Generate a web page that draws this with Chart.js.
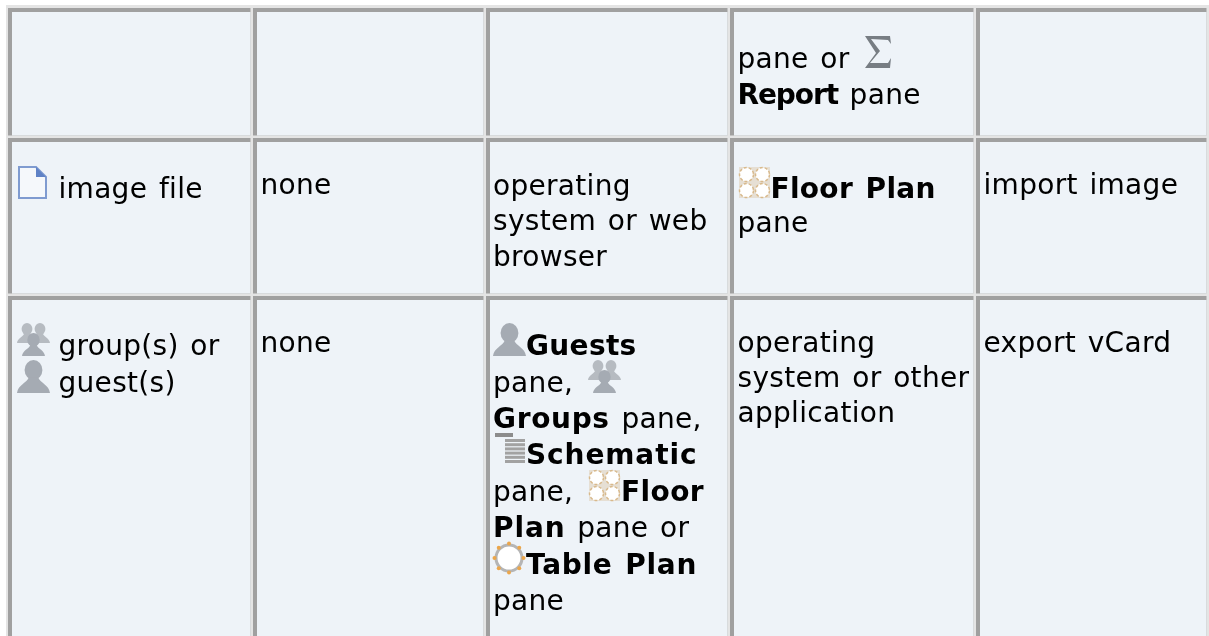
<!DOCTYPE html>
<html>
<head>
<meta charset="utf-8">
<title>Drag sources table</title>
<script src="https://cdn.jsdelivr.net/npm/chart.js@4/dist/chart.umd.min.js"></script>
<style>
    html, body { margin: 0; padding: 0; background: #fff; overflow: hidden; }
    canvas { display: block; }
</style>
</head>
<body>
<canvas id="table" width="1209" height="636"></canvas>
<script>
const columnEdges = [8, 253, 486, 730, 976, 1209];
const rowEdges = [8, 138, 296, 645];

const strong = (text) => ({strong: text});
const icon = (name) => ({icon: name});

// one entry per row, then per column, then per text line
const cellLines = [
    [
        [],
        [],
        [],
        [['pane or ', icon('sigma')], [strong('Report'), ' pane']],
        [],
    ],
    [
        [[icon('page'), 'image file']],
        [['none']],
        [['operating'], ['system or web'], ['browser']],
        [[icon('floor'), strong('Floor Plan')], ['pane']],
        [['import image']],
    ],
    [
        [[icon('group'), 'group(s) or'], [icon('person'), 'guest(s)']],
        [['none']],
        [
            [icon('person'), strong('Guests')],
            ['pane, ', icon('group')],
            [strong('Groups'), ' pane,'],
            [icon('schematic'), strong('Schematic')],
            ['pane, ', icon('floor'), strong('Floor')],
            [strong('Plan'), ' pane or'],
            [icon('tablePlan'), strong('Table Plan')],
            ['pane'],
        ],
        [['operating'], ['system or other'], ['application']],
        [['export vCard']],
    ],
];

const lineBaselines = [
    [[], [], [], [68, 104], []],
    [[198], [194], [195, 230, 266], [198, 232], [194]],
    [[355, 392], [352], [355, 392, 428, 464, 501, 537, 574, 610], [352, 387, 422], [352]],
];

const COLORS = {
    light: '#e4e4e4',
    dark: '#a0a0a0',
    fill: '#eef3f8',
    text: '#000000',
    person: '#a5abb3',
    personBack: '#b6bbc1',
};

const FONT_SIZE = 28;
const TEXT_INSET = [9, 7.5, 7, 7.5, 7.5];
const ICON_SIZE = 33;
const FIRST_COLUMN_ICON_GAP = 8.5;
const INLINE_ICON_GAP = 3;
// the original bold text has uneven hinted widths, so each run gets its own tracking
const STRONG_TRACKING = {
    Schematic: 0.9,
    Guests: 0.33,
    Groups: 0.67,
    Plan: 0.9,
    'Table Plan': 0.68,
    'Floor Plan': 0.3,
    Report: -1.1,
    Floor: 0.4,
};

// nested rectangles per cell: inset of the start and end edges, back to front
const cellLayers = [
    {color: COLORS.light, start: 0, end: 0},
    {color: COLORS.dark, start: 0, end: 2.5},
    {color: COLORS.fill, start: 4, end: 2.5},
];

function buildDatasets() {
    const datasets = [{
        data: [{x: (6 + 1209) / 2, y: [5, 645]}],
        backgroundColor: COLORS.light,
        barThickness: 1209 - 6,
        order: 10,
    }];
    cellLayers.forEach((layer, layerIndex) => {
        for (let col = 0; col < columnEdges.length - 1; col++) {
            const left = columnEdges[col] + layer.start;
            const right = columnEdges[col + 1] - layer.end;
            datasets.push({
                data: rowEdges.slice(0, -1).map((top, row) => ({
                    x: (left + right) / 2,
                    y: [top + layer.start, rowEdges[row + 1] - layer.end],
                })),
                backgroundColor: layer.color,
                barThickness: right - left,
                order: cellLayers.length - layerIndex,
            });
        }
    });
    return datasets;
}

function drawPerson(ctx, x, y, s, color) {
    ctx.fillStyle = color;
    ctx.beginPath();
    ctx.ellipse(x + s * 0.5, y + s * 0.3, s * 0.27, s * 0.3, 0, 0, Math.PI * 2);
    ctx.fill();
    ctx.beginPath();
    ctx.moveTo(x, y + s);
    ctx.bezierCurveTo(x + s * 0.03, y + s * 0.74, x + s * 0.3, y + s * 0.7, x + s * 0.36, y + s * 0.52);
    ctx.lineTo(x + s * 0.64, y + s * 0.52);
    ctx.bezierCurveTo(x + s * 0.7, y + s * 0.7, x + s * 0.97, y + s * 0.74, x + s, y + s);
    ctx.closePath();
    ctx.fill();
}

const iconPainters = {
    person(ctx, x, y) {
        drawPerson(ctx, x, y, ICON_SIZE, COLORS.person);
    },
    group(ctx, x, y) {
        drawPerson(ctx, x, y, 20, COLORS.personBack);
        drawPerson(ctx, x + 13, y, 20, COLORS.personBack);
        drawPerson(ctx, x + 5, y + 10, 23, COLORS.person);
    },
    page(ctx, x, y) {
        ctx.fillStyle = '#f5f8fb';
        ctx.strokeStyle = '#7f9bd0';
        ctx.lineWidth = 2;
        ctx.beginPath();
        ctx.moveTo(x + 2, y + 1);
        ctx.lineTo(x + 19, y + 1);
        ctx.lineTo(x + 29, y + 11);
        ctx.lineTo(x + 29, y + 32);
        ctx.lineTo(x + 2, y + 32);
        ctx.closePath();
        ctx.fill();
        ctx.stroke();
        ctx.fillStyle = '#5f82c6';
        ctx.beginPath();
        ctx.moveTo(x + 19, y + 1);
        ctx.lineTo(x + 29, y + 11);
        ctx.lineTo(x + 19, y + 11);
        ctx.closePath();
        ctx.fill();
    },
    floor(ctx, x, y) {
        ctx.fillStyle = '#e6dfd4';
        ctx.fillRect(x + 1, y + 1, ICON_SIZE - 2, ICON_SIZE - 2);
        [[8.5, 8.5], [24.5, 8.5], [8.5, 24.5], [24.5, 24.5]].forEach(([cx, cy]) => {
            ctx.fillStyle = '#ffffff';
            ctx.strokeStyle = '#d8b98c';
            ctx.lineWidth = 1.5;
            ctx.setLineDash([3, 2]);
            ctx.beginPath();
            ctx.arc(x + cx, y + cy, 7, 0, Math.PI * 2);
            ctx.fill();
            ctx.stroke();
        });
        ctx.setLineDash([]);
    },
    schematic(ctx, x, y) {
        ctx.fillStyle = '#8c8c8c';
        ctx.fillRect(x + 2, y + 1, 18, 4);
        ctx.fillStyle = '#a2a2a2';
        for (let i = 0; i < 6; i++) {
            ctx.fillRect(x + 12, y + 7 + i * 4.2, 20, 3);
        }
    },
    tablePlan(ctx, x, y) {
        const cx = x + 16;
        const cy = y + 16;
        ctx.fillStyle = '#ffffff';
        ctx.strokeStyle = '#b5b5b5';
        ctx.lineWidth = 3;
        ctx.beginPath();
        ctx.arc(cx, cy, 13, 0, Math.PI * 2);
        ctx.fill();
        ctx.stroke();
        ctx.fillStyle = '#eba64b';
        for (let i = 0; i < 8; i++) {
            const angle = i * Math.PI / 4;
            ctx.beginPath();
            ctx.arc(cx + Math.cos(angle) * 14.5, cy + Math.sin(angle) * 14.5, 2, 0, Math.PI * 2);
            ctx.fill();
        }
    },
    sigma(ctx, x, y) {
        ctx.fillStyle = '#777d83';
        ctx.beginPath();
        ctx.moveTo(x + 1, y);
        ctx.lineTo(x + 26, y);
        ctx.lineTo(x + 27, y + 8);
        ctx.lineTo(x + 24, y + 4);
        ctx.lineTo(x + 7, y + 3);
        ctx.lineTo(x + 16, y + 15);
        ctx.lineTo(x + 6, y + 27);
        ctx.lineTo(x + 24, y + 27);
        ctx.lineTo(x + 27, y + 22);
        ctx.lineTo(x + 26, y + 32);
        ctx.lineTo(x + 1, y + 32);
        ctx.lineTo(x + 12, y + 17);
        ctx.closePath();
        ctx.fill();
    },
};

const cellTextPlugin = {
    id: 'cellText',
    afterDatasetsDraw(chart) {
        const {ctx, scales} = chart;
        ctx.save();
        ctx.textBaseline = 'alphabetic';
        ctx.textAlign = 'left';
        cellLines.forEach((rowCells, row) => {
            rowCells.forEach((lines, col) => {
                lines.forEach((runs, lineIndex) => {
                    const baseline = scales.y.getPixelForValue(lineBaselines[row][col][lineIndex]);
                    const lineStart = scales.x.getPixelForValue(columnEdges[col] + TEXT_INSET[col]);
                    let x = lineStart;
                    runs.forEach((run) => {
                        if (run.icon) {
                            if (x > lineStart) {
                                x += INLINE_ICON_GAP;
                            }
                            ctx.save();
                            iconPainters[run.icon](ctx, Math.round(x), baseline - ICON_SIZE + 1);
                            ctx.restore();
                            x += ICON_SIZE + (col === 0 ? FIRST_COLUMN_ICON_GAP : 0);
                            return;
                        }
                        const text = run.strong || run;
                        ctx.font = (run.strong ? 'bold ' : '') + FONT_SIZE + 'px "DejaVu Sans"';
                        ctx.letterSpacing = (run.strong ? STRONG_TRACKING[text] : 0.3) + 'px';
                        ctx.wordSpacing = '2.5px';
                        ctx.fillStyle = COLORS.text;
                        ctx.fillText(text, x, baseline);
                        x += ctx.measureText(text).width;
                    });
                });
            });
        });
        ctx.restore();
    },
};

new Chart(document.getElementById('table'), {
    type: 'bar',
    data: {datasets: buildDatasets()},
    options: {
        responsive: false,
        animation: false,
        layout: {padding: 0},
        grouped: false,
        inflateAmount: 0,
        borderWidth: 0,
        plugins: {
            legend: {display: false},
            tooltip: {enabled: false},
        },
        scales: {
            x: {type: 'linear', min: 0, max: 1209, offset: false, display: false},
            y: {type: 'linear', min: 0, max: 636, reverse: true, display: false},
        },
    },
    plugins: [cellTextPlugin],
});
</script>
</body>
</html>
